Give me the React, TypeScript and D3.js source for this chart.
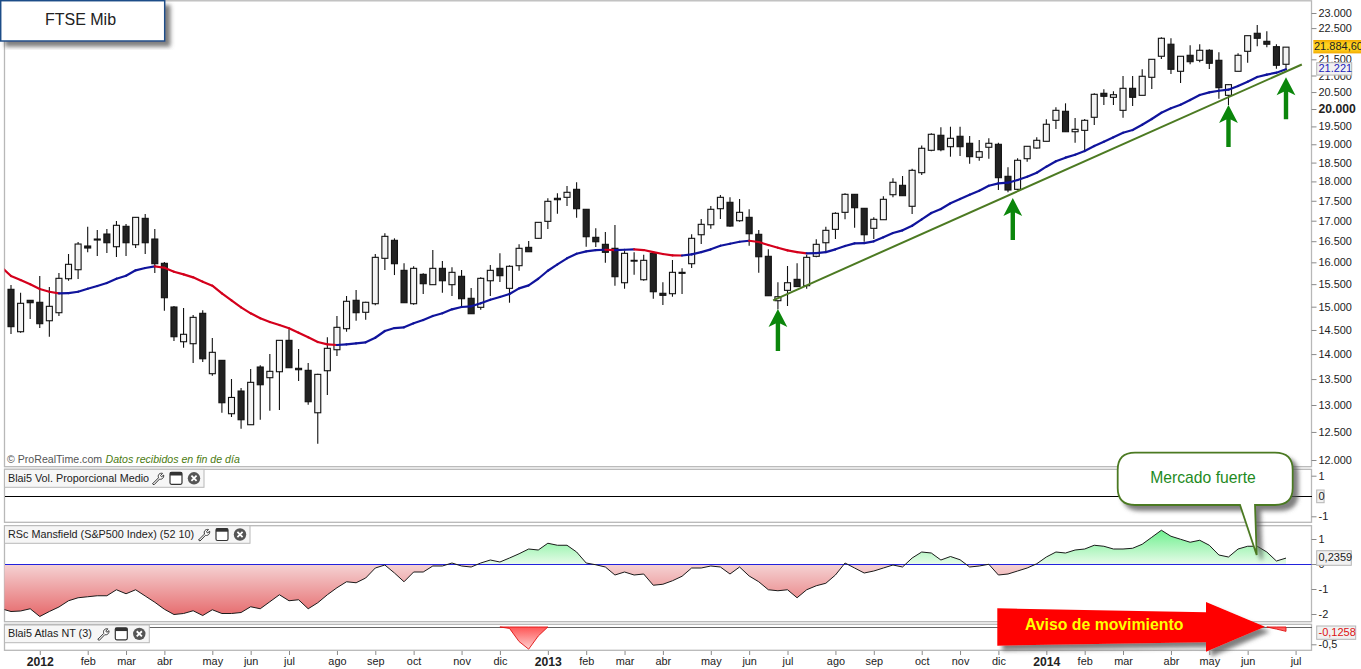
import * as d3 from 'd3';
import { useEffect, useRef } from 'react';

const WIDTH = 1361;
const HEIGHT = 669;

// weekly candles, read off the picture (week 0 is the first candle on the left)
const opens = [
  15384, 14463, 15140, 15096, 14696, 14869, 15623, 15829, 16385, 16528,
  16673, 16368, 16861, 16416, 17058, 16552, 15977, 14993, 14254, 14213,
  14856, 13606, 13873, 12836, 13267, 12632, 13739, 13527, 13645, 14283,
  13713, 13673, 12854, 13665, 14089, 14527, 15140, 14878, 15065, 16094,
  16521, 15815, 15065, 15723, 15488, 15861, 15488, 15678, 15184, 14986,
  15577, 15861, 15406, 15922, 16353, 16569, 16984, 17563, 17588, 17794,
  17284, 16593, 16425, 16330, 15532, 16047, 15600, 16211, 15295, 15286,
  15769, 15968, 16656, 16900, 17299, 17461, 16999, 17083, 16666, 16141,
  15131, 15361, 15609, 15465, 16141, 16463, 16787, 17208, 17665, 17309,
  16812, 17024, 17655, 17898, 17360, 18230, 18834, 19250, 18933, 19222,
  19027, 18643, 18917, 18999, 18134, 17794, 18605, 18897, 19082, 19674,
  19934, 19350, 19389, 19761, 20463, 20344, 19962, 20612, 20403, 20945,
  21596, 21978, 21129, 21627, 21470, 21785, 21470, 20403, 21129, 21753,
  22331, 22072, 21900, 21346,
];
const closes = [
  14570, 15074, 15087, 14633, 15008, 15632, 15954, 16432, 16337, 16552,
  16463, 16886, 16463, 17083, 16463, 15968, 15197, 14358, 14409, 14769,
  13905, 14036, 13043, 13144, 12724, 13436, 13389, 13653, 14283, 13725,
  13685, 13062, 13593, 14118, 14556, 15118, 14869, 15096, 16117, 16617,
  15968, 15087, 15861, 15510, 15861, 15577, 15769, 15175, 14847, 15632,
  15815, 15692, 15908, 16330, 16249, 16959, 17486, 17527, 17717, 17299,
  16608, 16487, 16235, 15669, 16211, 16038, 16047, 15330, 15250, 15769,
  15746, 16569, 16910, 17284, 17588, 16868, 17208, 16680, 16131, 15241,
  15219, 15532, 15445, 16117, 16425, 16763, 17183, 17665, 17324, 16656,
  17034, 17537, 17977, 17630, 18293, 18889, 19278, 18850, 19166, 18933,
  18660, 18796, 19027, 18098, 17776, 18562, 18944, 19110, 19561, 19962,
  19350, 19418, 19674, 20433, 20374, 20421, 20612, 20344, 20976, 21501,
  22169, 21191, 21596, 21426, 21785, 21377, 20631, 20722, 21627, 22253,
  22169, 21978, 21315, 21885,
];
const highs = [
  15480, 15310, 15146, 15685, 15435, 15753, 16195, 16480, 16851, 16770,
  16795, 16991, 16918, 17091, 17166, 16795, 16008, 15015, 14971, 14819,
  14921, 14331, 13873, 13501, 13325, 13699, 13773, 14001, 14283, 14513,
  14104, 13819, 13606, 14345, 14798, 15235, 15368, 15109, 16195, 16690,
  16569, 15977, 15908, 15746, 16289, 16031, 15885, 15822, 15413, 15654,
  15938, 16211, 15931, 16425, 16504, 16959, 17563, 17691, 17880, 17977,
  17284, 16812, 16722, 16893, 16265, 16235, 16179, 16211, 15541, 16054,
  15861, 16666, 17041, 17367, 17647, 17588, 17545, 17284, 16770, 16306,
  15541, 15915, 15977, 16172, 16545, 16851, 17208, 17691, 17673, 17317,
  17083, 17614, 18082, 18142, 18336, 18969, 19305, 19475, 19492, 19492,
  19230, 19118, 19166, 19043, 18373, 18616, 18952, 19194, 19703, 20050,
  20167, 19741, 19712, 20463, 20582, 20522, 20985, 20985, 21191, 21501,
  22201, 22169, 21600, 21944, 21978, 21816, 21722, 20733, 21690, 22253,
  22603, 22396, 21978, 21880,
];
const lows = [
  14414, 14442, 14733, 14541, 14358, 14798, 15577, 15616, 16235, 16148,
  16218, 16124, 16148, 16337, 16195, 15753, 14912, 14268, 14130, 13819,
  13839, 13566, 12854, 12774, 12559, 12632, 12724, 12892, 12905, 13725,
  13461, 13005, 12287, 13190, 13961, 14463, 14696, 14717, 15030, 15822,
  15707, 15087, 15043, 15279, 15488, 15308, 15235, 14999, 14847, 14934,
  15235, 15548, 15087, 15806, 16249, 16559, 16795, 17174, 17367, 17073,
  16368, 16361, 15992, 15465, 15397, 15714, 15577, 15175, 15037, 15219,
  15279, 15868, 16432, 16802, 17041, 16851, 16974, 16392, 15760, 15241,
  14942, 15015, 15445, 15397, 16117, 16249, 16552, 17034, 16827, 16487,
  16552, 17024, 17588, 17630, 17166, 18169, 18807, 18807, 18660, 18679,
  18470, 18551, 18605, 17776, 17717, 17776, 18524, 18878, 19082, 19427,
  19350, 19043, 18823, 19540, 20118, 20118, 19750, 20088, 20403, 20591,
  21510, 21047, 20772, 21346, 21408, 21200, 20302, 20118, 21129, 21395,
  21912, 21880, 21210, 21169,
];

// moving average, starts one week before the first candle
const maValues = [
  15891, 15685, 15593, 15496, 15390, 15330, 15295, 15300, 15330, 15397,
  15458, 15525, 15623, 15692, 15815, 15868, 15908, 15875, 15783, 15723,
  15654, 15555, 15465, 15295, 15140, 14986, 14856, 14748, 14669, 14605,
  14535, 14442, 14346, 14248, 14200, 14186, 14200, 14221, 14242, 14337,
  14478, 14541, 14556, 14641, 14711, 14798, 14856, 14942, 14993, 15008,
  15074, 15153, 15213, 15279, 15406, 15473, 15623, 15806, 15954, 16094,
  16202, 16258, 16289, 16296, 16285, 16296, 16306, 16289, 16241, 16195,
  16164, 16160, 16188, 16241, 16306, 16392, 16440, 16487, 16511, 16480,
  16408, 16344, 16282, 16241, 16211, 16218, 16241, 16306, 16385, 16449,
  16455, 16497, 16593, 16697, 16763, 16876, 17034, 17191, 17291, 17436,
  17545, 17655, 17758, 17888, 17950, 17966, 18037, 18124, 18230, 18390,
  18535, 18633, 18714, 18815, 18952, 19071, 19194, 19322, 19398, 19548,
  19712, 19893, 20021, 20125, 20264, 20413, 20492, 20540, 20570, 20682,
  20812, 20955, 21026, 21087, 21191,
];

// RSc Mansfield, also from one week before the first candle
const rscValues = [
  -1.79, -1.9, -1.88, -1.79, -2.1, -1.9, -1.72, -1.47, -1.35, -1.31,
  -1.27, -1.27, -1.03, -1.19, -1.03, -1.28, -1.53, -1.81, -2.02, -1.98,
  -1.87, -2.06, -1.83, -1.98, -1.98, -1.94, -1.71, -1.79, -1.51, -1.23,
  -1.47, -1.43, -1.79, -1.55, -1.23, -0.95, -0.71, -0.75, -0.56, -0.16,
  -0.04, -0.36, -0.71, -0.32, -0.32, -0.08, -0.08, 0.04, -0.08, -0.12,
  0.04, 0.16, 0.08, 0.24, 0.41, 0.6, 0.56, 0.83, 0.75, 0.75,
  0.48, 0.04, -0.03, -0.12, -0.44, -0.32, -0.44, -0.4, -0.85, -0.81,
  -0.67, -0.49, -0.16, -0.16, -0.08, -0.12, -0.4, -0.12, -0.48, -0.71,
  -1.03, -1.07, -1.03, -1.35, -1.03, -0.87, -0.77, -0.44, 0.04, -0.16,
  -0.36, -0.28, -0.16, -0.04, -0.12, 0.24, 0.48, 0.44, 0.16, 0.3,
  0.17, -0.12, -0.08, -0.01, -0.44, -0.4, -0.28, -0.16, 0.01, 0.28,
  0.48, 0.44, 0.56, 0.6, 0.75, 0.71, 0.6, 0.6, 0.63, 0.79,
  1.07, 1.35, 1.11, 0.99, 0.87, 0.95, 0.75, 0.36, 0.28, 0.6,
  0.71, 0.71, 0.48, 0.12, 0.2359,
];

// Blai5 Atlas only dips below zero twice
const atlasWeeksA = [51, 52, 53, 54, 55, 56];
const atlasValuesA = [0, -0.04, -0.42, -0.64, -0.26, 0];
const atlasWeeksB = [131, 132, 133];
const atlasValuesB = [0, -0.06, -0.1258];

const monthWeeks = [
  3, 8, 12, 16, 21, 25, 29, 34, 38, 42, 47, 51,
  56, 60, 64, 68, 73, 77, 81, 86, 90, 95, 99, 103,
  108, 112, 116, 121, 125, 129, 134,
];
const monthLabels = [
  '2012', 'feb', 'mar', 'abr', 'may', 'jun', 'jul', 'ago', 'sep', 'oct', 'nov', 'dic',
  '2013', 'feb', 'mar', 'abr', 'may', 'jun', 'jul', 'ago', 'sep', 'oct', 'nov', 'dic',
  '2014', 'feb', 'mar', 'abr', 'may', 'jun', 'jul',
];

const priceTicks = [
  23000, 22500, 21500, 21000, 20500, 20000, 19500, 19000, 18500, 18000, 17500, 17000,
  16500, 16000, 15500, 15000, 14500, 14000, 13500, 13000, 12500, 12000,
];

// support line and the green arrows, as [week, price]
const trendWeeks = [79.5, 134.65];
const trendPrices = [15140, 21340];
const arrowWeeks = [80, 104.5, 127, 133];
const arrowPrices = [14949, 17570, 20118, 20945];

const PLOT_LEFT = 4.5;
const PLOT_RIGHT = 1311.5;
const FONT = '"Liberation Sans", Arial, sans-serif';

const x = d3.scaleLinear().domain([0, 133]).range([11, 1286]);
const priceY = d3.scaleLog().domain([12000, 23000]).range([460, 13]);
const volY = d3.scaleLinear().domain([-1, 1]).range([516.3, 475.7]);
const rscY = d3.scaleLinear().domain([-2, 1]).range([614, 539]);
const atlasY = d3.scaleLinear().domain([-0.5, 0]).range([644.3, 627]);

const esFormat = d3.formatLocale({
  decimal: ',',
  thousands: '.',
  grouping: [3],
  currency: ['', ''],
});

const rscArea = d3
  .area<number>()
  .x((_d, i) => x(i - 1))
  .y0(rscY(0))
  .y1((d) => rscY(d));
const rscLine = d3
  .line<number>()
  .x((_d, i) => x(i - 1))
  .y((d) => rscY(d));

const atlasArea = (weeks: number[], values: number[]) =>
  d3
    .area<number>()
    .x((_d, i) => x(weeks[i]))
    .y0(atlasY(0))
    .y1((d) => atlasY(d))(values) ?? '';

const maLine = d3
  .line<number>()
  .x((d) => x(d))
  .y((d) => priceY(maValues[d + 1]));

const Legend = ({ top, right, height, label }: { top: number; right: number; height: number; label: string }) => (
  <g>
    <rect x={PLOT_LEFT} y={top} width={right - PLOT_LEFT} height={height} fill='#f6f6f6' stroke='#b8b8b8' />
    <text x={8} y={top + height / 2 + 0.5} fontSize={10.8} fill='#222' dominantBaseline='middle'>
      {label}
    </text>
    <g transform={`translate(${right - 46},${top + height / 2})`} fill='none' stroke='#333' strokeWidth={1}>
      <path d='M-5.5 5.5 L0.5 -0.5 C-0.5 -3.5 1.5 -5.5 4.5 -5 L2.5 -2.8 L3.5 -1.5 L5.7 -3.2 C6 -0.5 4 1.5 1.5 0.8 L-4 6.5 Z' fill='#fff' />
    </g>
    <g transform={`translate(${right - 28},${top + height / 2})`}>
      <rect x={-6} y={-6} width={12} height={12} rx={1.5} fill='#fff' stroke='#333' strokeWidth={1.2} />
      <rect x={-6} y={-6} width={12} height={3.2} fill='#333' />
    </g>
    <g transform={`translate(${right - 10},${top + height / 2})`}>
      <circle r={6.2} fill='#555' />
      <path d='M-2.6 -2.6 L2.6 2.6 M2.6 -2.6 L-2.6 2.6' stroke='#fff' strokeWidth={1.8} />
    </g>
  </g>
);

const ValueBox = ({ top, width, height, label, color }: { top: number; width: number; height: number; label: string; color: string }) => (
  <g>
    <rect x={1316.7} y={top} width={width} height={height} fill='#f1f1f1' stroke='#b5b5b5' />
    <text x={1318.5} y={top + height / 2 + 0.5} fontSize={11} fill={color} dominantBaseline='middle'>
      {label}
    </text>
  </g>
);

const App = () => {
  const gPrice = useRef<SVGGElement | null>(null);
  const gVol = useRef<SVGGElement | null>(null);
  const gRsc = useRef<SVGGElement | null>(null);
  const gAtlas = useRef<SVGGElement | null>(null);
  const gMonths = useRef<SVGGElement | null>(null);

  useEffect(() => {
    const style = (g: d3.Selection<SVGGElement, unknown, null, undefined>) => {
      g.select('.domain').remove();
      g.selectAll('.tick line').attr('stroke', '#8a8a8a');
      g.selectAll('text').attr('fill', '#222').attr('font-size', 10.9).attr('font-family', FONT);
    };
    const price = d3.select(gPrice.current!);
    price.call(
      d3
        .axisRight(priceY)
        .tickValues(priceTicks)
        .tickSize(5)
        .tickPadding(2)
        .tickFormat((d) => esFormat.format(',')(d as number)),
    );
    style(price);
    price
      .selectAll<SVGTextElement, number>('text')
      .filter((d) => d === 20000)
      .attr('font-weight', 'bold')
      .attr('font-size', 12.2);

    const vol = d3.select(gVol.current!);
    vol.call(d3.axisRight(volY).tickValues([1, -1]).tickSize(5).tickPadding(2).tickFormat((d) => `${d}`));
    style(vol);

    const rsc = d3.select(gRsc.current!);
    rsc.call(d3.axisRight(rscY).tickValues([1, 0, -1, -2]).tickSize(5).tickPadding(2).tickFormat((d) => `${d}`));
    style(rsc);

    const atlas = d3.select(gAtlas.current!);
    atlas.call(
      d3
        .axisRight(atlasY)
        .tickValues([-0.5])
        .tickSize(5)
        .tickPadding(2)
        .tickFormat((d) => `${d}`.replace('.', ',')),
    );
    style(atlas);

    const months = d3.select(gMonths.current!);
    months.call(
      d3
        .axisBottom(x)
        .tickValues(monthWeeks)
        .tickSize(4)
        .tickPadding(2)
        .tickFormat((_d, i) => monthLabels[i]),
    );
    style(months);
    months
      .selectAll<SVGTextElement, number>('text')
      .filter((_d, i) => monthLabels[i].startsWith('20'))
      .attr('font-weight', 'bold')
      .attr('font-size', 12.2);
  }, []);

  return (
    <svg
      width={WIDTH}
      height={HEIGHT}
      style={{ position: 'absolute', left: 0, top: 0, display: 'block', background: '#fff' }}
      fontFamily={FONT}
    >
      <defs>
        <clipPath id='plot'>
          <rect x={PLOT_LEFT} y={0} width={PLOT_RIGHT - PLOT_LEFT} height={HEIGHT} />
        </clipPath>
        <linearGradient id='rscFill' gradientUnits='userSpaceOnUse' x1={0} x2={0} y1={rscY(1.35)} y2={rscY(-2.1)}>
          <stop offset='0' stopColor='#6ff08f' />
          <stop offset={(rscY(0) - rscY(1.35)) / (rscY(-2.1) - rscY(1.35))} stopColor='#e6fbe8' />
          <stop offset={(rscY(0) - rscY(1.35)) / (rscY(-2.1) - rscY(1.35))} stopColor='#f5d3d4' />
          <stop offset='1' stopColor='#e66a6c' />
        </linearGradient>
        <linearGradient id='atlasFill' gradientUnits='userSpaceOnUse' x1={0} x2={0} y1={atlasY(0)} y2={atlasY(-0.64)}>
          <stop offset='0' stopColor='#f55' />
          <stop offset='1' stopColor='#fdd0d0' />
        </linearGradient>
        <linearGradient id='tagGold' x1={0} x2={0} y1={0} y2={1}>
          <stop offset='0' stopColor='#f2a900' />
          <stop offset='0.3' stopColor='#ffd21f' />
          <stop offset='0.7' stopColor='#ffd21f' />
          <stop offset='1' stopColor='#f2a900' />
        </linearGradient>
        <filter id='shadow' x='-10%' y='-10%' width='125%' height='130%'>
          <feDropShadow dx={5} dy={5} stdDeviation={2.2} floodColor='#555' floodOpacity={0.75} />
        </filter>
      </defs>

      {/* panel frames */}
      <g fill='#fff' stroke='#b8b8b8' strokeWidth={1.3}>
        <rect x={PLOT_LEFT} y={0.8} width={PLOT_RIGHT - PLOT_LEFT} height={465.9} />
        <rect x={PLOT_LEFT} y={469.3} width={PLOT_RIGHT - PLOT_LEFT} height={53} />
        <rect x={PLOT_LEFT} y={525.7} width={PLOT_RIGHT - PLOT_LEFT} height={96} />
        <rect x={PLOT_LEFT} y={624.3} width={PLOT_RIGHT - PLOT_LEFT} height={26} />
      </g>

      <g ref={gPrice} transform={`translate(${PLOT_RIGHT},0)`} />
      <g ref={gVol} transform={`translate(${PLOT_RIGHT},0)`} />
      <g ref={gRsc} transform={`translate(${PLOT_RIGHT},0)`} />
      <g ref={gAtlas} transform={`translate(${PLOT_RIGHT},0)`} />
      <g ref={gMonths} transform='translate(0,651)' />

      {/* candles */}
      <g clipPath='url(#plot)'>
        {opens.map((o, i) => {
          const top = priceY(Math.max(o, closes[i]));
          const bottom = priceY(Math.min(o, closes[i]));
          return (
            <g key={i}>
              <line x1={x(i)} x2={x(i)} y1={priceY(highs[i])} y2={priceY(lows[i])} stroke='#111' strokeWidth={1.1} />
              <rect
                x={x(i) - 3}
                y={top}
                width={6}
                height={Math.max(bottom - top, 0.8)}
                fill={closes[i] >= o ? '#f4f4f4' : '#222'}
                stroke='#111'
                strokeWidth={1.1}
              />
            </g>
          );
        })}

        {/* moving average, blue while rising and red while falling */}
        {maValues.slice(1).map((v, i) => (
          <path
            key={i}
            d={maLine([i - 1, i]) ?? ''}
            fill='none'
            stroke={v >= maValues[i] ? '#10149c' : '#d4001c'}
            strokeWidth={2.2}
            strokeLinecap='round'
          />
        ))}
      </g>

      <line
        x1={x(trendWeeks[0])}
        y1={priceY(trendPrices[0])}
        x2={x(trendWeeks[1])}
        y2={priceY(trendPrices[1])}
        stroke='#4c7a22'
        strokeWidth={2}
      />

      {arrowWeeks.map((w, i) => (
        <g key={i} transform={`translate(${x(w)},${priceY(arrowPrices[i])})`} fill='#0b860b'>
          <path d='M0 0 L9.4 18 L2.2 14.5 L2.2 42 L-2.2 42 L-2.2 14.5 L-9.4 18 Z' />
        </g>
      ))}

      <text x={7} y={460.5} fontSize={10.6} dominantBaseline='middle' fill='#555'>
        © ProRealTime.com
      </text>
      <text x={105.5} y={460.5} fontSize={10.6} fontStyle='italic' dominantBaseline='middle' fill='#4a7a10'>
        Datos recibidos en fin de día
      </text>

      {/* Vol. Proporcional Medio */}
      <line x1={PLOT_LEFT} x2={PLOT_RIGHT} y1={volY(0)} y2={volY(0)} stroke='#000' strokeWidth={1} shapeRendering='crispEdges' />
      <Legend top={469.3} right={204} height={18} label='Blai5 Vol. Proporcional Medio' />

      {/* RSc Mansfield */}
      <g clipPath='url(#plot)'>
        <path d={rscArea(rscValues) ?? ''} fill='url(#rscFill)' />
        <line x1={PLOT_LEFT} x2={PLOT_RIGHT} y1={rscY(0)} y2={rscY(0)} stroke='#2222dd' strokeWidth={1} shapeRendering='crispEdges' />
        <path d={rscLine(rscValues) ?? ''} fill='none' stroke='#1a1a1a' strokeWidth={1} />
      </g>
      <Legend top={525.7} right={250} height={17.6} label='RSc Mansfield (S&P500 Index) (52 10)' />

      {/* Atlas NT */}
      <line x1={PLOT_LEFT} x2={PLOT_RIGHT} y1={atlasY(0)} y2={atlasY(0)} stroke='#666' strokeWidth={1} shapeRendering='crispEdges' />
      <path d={atlasArea(atlasWeeksA, atlasValuesA)} fill='url(#atlasFill)' stroke='#e01010' strokeWidth={0.9} />
      <path d={atlasArea(atlasWeeksB, atlasValuesB)} fill='url(#atlasFill)' stroke='#e01010' strokeWidth={0.9} />
      <Legend top={625} right={149.3} height={17.7} label='Blai5 Atlas NT (3)' />

      {/* value tags on the right */}
      <rect x={1313.3} y={40} width={47.7} height={13.4} fill='url(#tagGold)' />
      <text x={1314} y={47.2} fontSize={11} fill='#222' dominantBaseline='middle'>
        21.884,60
      </text>
      <ValueBox top={62.7} width={35} height={12.4} label='21.221' color='#2222bb' />
      <ValueBox top={490} width={7.4} height={12.7} label='0' color='#222' />
      <ValueBox top={550.7} width={34.6} height={14.6} label='0,2359' color='#222' />
      <ValueBox top={626} width={39} height={13.3} label='-0,1258' color='#dd1111' />

      {/* title box */}
      <rect x={0.7} y={0.7} width={164} height={40.3} fill='#fff' stroke='#1f4e88' strokeWidth={1.5} filter='url(#shadow)' />
      <text x={80.5} y={20.5} fontSize={16} textAnchor='middle' dominantBaseline='middle' fill='#222'>
        FTSE Mib
      </text>

      {/* callout */}
      <path
        d='M1135 452.7 H1275 Q1292.7 452.7 1292.7 470 V488 Q1292.7 505 1275 505 H1255 L1256.7 555 L1240 505 H1135 Q1117.7 505 1117.7 488 V470 Q1117.7 452.7 1135 452.7 Z'
        fill='#fff'
        stroke='#4c7a22'
        strokeWidth={1.8}
        filter='url(#shadow)'
      />
      <text x={1203} y={479} fontSize={15.7} textAnchor='middle' dominantBaseline='middle' fill='#1e8a1e'>
        Mercado fuerte
      </text>

      {/* red arrow */}
      <path
        d='M997.3 608.3 L1206 612.3 L1206 602 L1265 626.7 L1206 651.7 L1206 642.3 L997.3 645.7 Z'
        fill='#ff0000'
        filter='url(#shadow)'
      />
      <text x={1025} y={626} fontSize={15.8} fontWeight='bold' dominantBaseline='middle' fill='#ffff00'>
        Aviso de movimiento
      </text>
    </svg>
  );
};

export default App;
